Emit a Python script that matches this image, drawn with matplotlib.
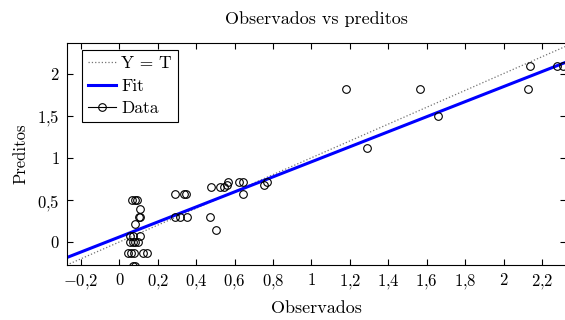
import numpy as np
import matplotlib
matplotlib.use("Agg")
import matplotlib.pyplot as plt
from matplotlib.ticker import FuncFormatter

plt.rcParams['font.family'] = 'serif'
plt.rcParams['font.serif'] = ['cmr10']
plt.rcParams['mathtext.fontset'] = 'cm'
plt.rcParams['axes.unicode_minus'] = False

obs = [0.067, 0.084, 0.093, 0.110, 0.101, 0.110, 0.084,
       0.058, 0.070, 0.105, 0.058, 0.070, 0.084, 0.096,
       0.044, 0.063, 0.075, 0.122, 0.145, 0.070, 0.079,
       0.292, 0.336, 0.348, 0.292, 0.318, 0.353,
       0.475, 0.471, 0.501, 0.523, 0.544, 0.558, 0.565,
       0.622, 0.645, 0.645, 0.752, 0.767,
       1.178, 1.288, 1.564, 1.659, 2.128, 2.137, 2.277, 2.307]
pred = [0.50, 0.50, 0.50, 0.39, 0.30, 0.30, 0.215,
        0.075, 0.075, 0.075, 0.0, 0.0, 0.0, 0.0,
        -0.135, -0.135, -0.135, -0.135, -0.135, -0.28, -0.28,
        0.566, 0.566, 0.566, 0.30, 0.30, 0.30,
        0.65, 0.30, 0.14, 0.65, 0.65, 0.68, 0.71,
        0.71, 0.71, 0.57, 0.68, 0.71,
        1.82, 1.115, 1.82, 1.49, 1.82, 2.09, 2.09, 2.09]

fit_slope = 0.893
fit_intercept = 0.059

xlim = (-0.274, 2.325)
ylim = (-0.273, 2.36)

fig = plt.figure(figsize=(5.65, 3.2), dpi=100)
ax = fig.add_axes([0.118, 0.172, 0.884, 0.693])

xx = np.array(xlim)
ax.plot(xx, xx, ':', color='0.45', lw=0.9, label='Y = T')
ax.plot(xx, fit_intercept + fit_slope * xx, '-', color='blue', lw=2.2, label='Fit')
ax.plot(obs, pred, '-o', color='black', lw=0, mfc='none', mec='black',
        ms=5.5, mew=0.8, label='Data')

ax.set_xlim(*xlim)
ax.set_ylim(*ylim)
ax.set_xticks(np.arange(-0.2, 2.21, 0.2))
ax.set_yticks([0, 0.5, 1, 1.5, 2])

def fmt(v, pos):
    s = ('%.1f' % v).rstrip('0').rstrip('.')
    if s == '-0':
        s = '0'
    return '$' + s.replace('.', '{,}') + '$'

ax.xaxis.set_major_formatter(FuncFormatter(fmt))
ax.yaxis.set_major_formatter(FuncFormatter(fmt))
ax.tick_params(direction='in', top=True, right=True, length=4, width=0.8,
               labelsize=12, pad=5)

ax.set_title('Observados vs preditos', fontsize=13, pad=14)
ax.set_xlabel('Observados', fontsize=13, labelpad=7)
ax.set_ylabel('Preditos', fontsize=12, labelpad=6)

leg = ax.legend(loc='upper left', bbox_to_anchor=(0.031, 0.969), fontsize=12.5,
                fancybox=False, framealpha=1, edgecolor='black',
                handlelength=1.6, borderpad=0.35, labelspacing=0.4,
                handletextpad=0.3, borderaxespad=0)
leg.get_frame().set_linewidth(0.8)
leg.legend_handles[2].set_linewidth(0.8)

fig.savefig('out.png', dpi=100)
